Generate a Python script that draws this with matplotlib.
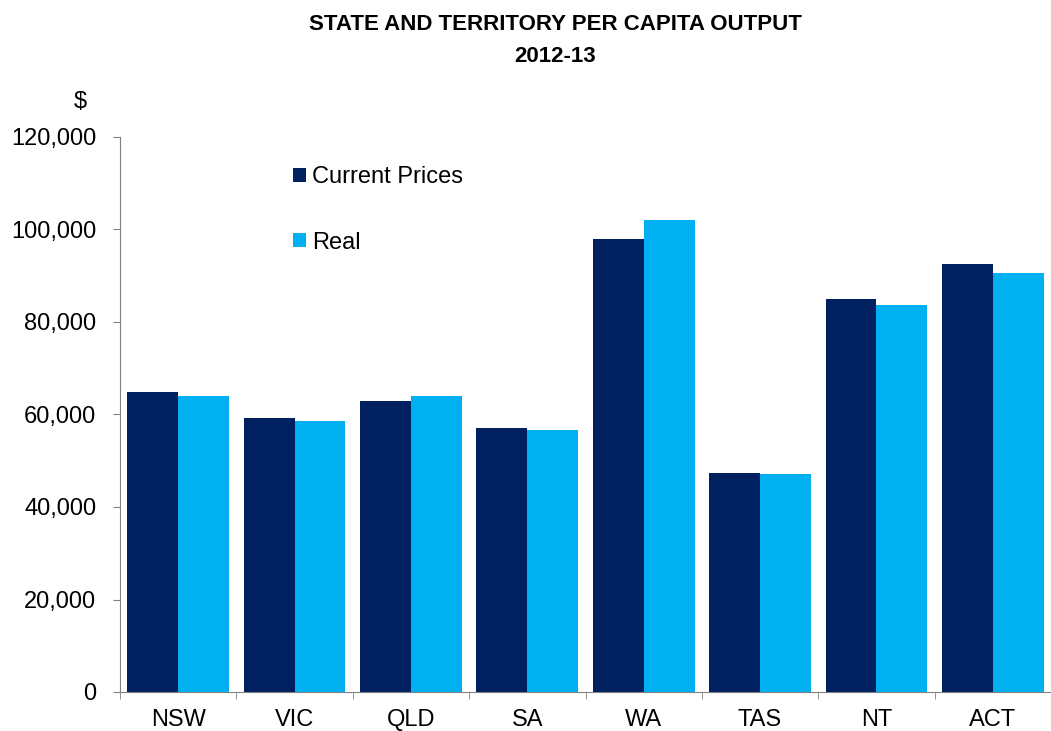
import matplotlib.pyplot as plt
import numpy as np

states = ['NSW', 'VIC', 'QLD', 'SA', 'WA', 'TAS', 'NT', 'ACT']
current_prices = [64900, 59300, 63000, 57100, 97900, 47400, 85000, 92500]
real = [64100, 58600, 64000, 56600, 102100, 47100, 83700, 90500]

plt.rcParams['font.family'] = ['Liberation Sans', 'DejaVu Sans']

fig = plt.figure(figsize=(10.51, 7.31), dpi=100)
ax = fig.add_axes([120 / 1051, 39 / 731, 1 - 120 / 1051, 555 / 731])

x = np.arange(len(states))
w = 0.4375
ax.bar(x - w / 2, current_prices, w, color='#002060', label='Current Prices')
ax.bar(x + w / 2, real, w, color='#00B0F0', label='Real')

ax.set_ylim(0, 120000)
ax.set_xlim(-0.5, 7.4)
ax.set_yticks(range(0, 120001, 20000))
ax.set_yticklabels([f'{v:,}' for v in range(0, 120001, 20000)], fontsize=17)
ax.set_xticks(x)
ax.set_xticklabels(states, fontsize=17)
ax.set_xticks(np.arange(-0.5, 8, 1), minor=True)
ax.tick_params(axis='x', which='major', length=0, pad=12)
ax.tick_params(axis='x', which='minor', length=5, direction='out', color='#808080')
ax.tick_params(axis='y', length=5, direction='out', color='#808080', pad=12)

for s in ['top', 'right']:
    ax.spines[s].set_visible(False)
for s in ['left', 'bottom']:
    ax.spines[s].set_color('#808080')

fig.legend(*ax.get_legend_handles_labels(), loc='upper left',
           bbox_to_anchor=(293 / 1051, 1 - 166 / 731), frameon=False,
           fontsize=17, handlelength=0.55, handleheight=0.55, handletextpad=0.25,
           labelspacing=1.85, borderpad=0, borderaxespad=0)

fig.text(555 / 1051, 1 - 25 / 731, 'STATE AND TERRITORY PER CAPITA OUTPUT',
         ha='center', va='center', fontsize=16, fontweight='bold')
fig.text(555 / 1051, 1 - 57 / 731, '2012-13',
         ha='center', va='center', fontsize=16, fontweight='bold')
fig.text(80 / 1051, 1 - 102 / 731, '$', ha='center', va='center', fontsize=17)

fig.savefig('out.png', dpi=100)
